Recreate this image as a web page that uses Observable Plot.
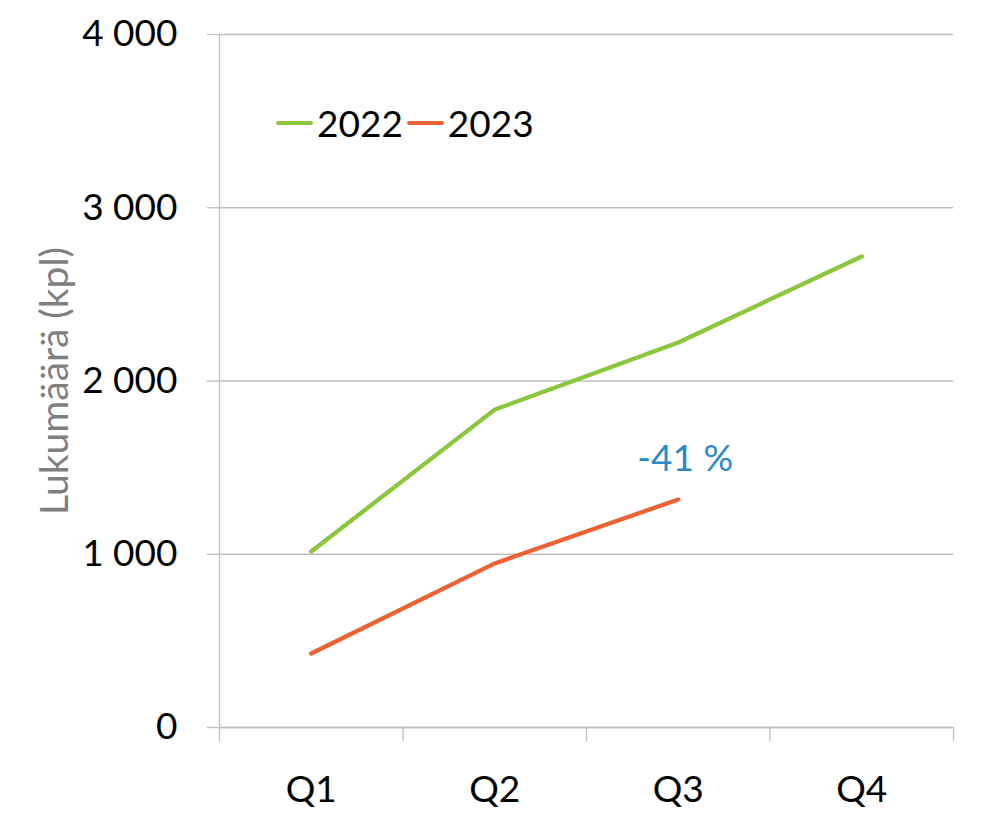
<!DOCTYPE html>
<html>
<head>
<meta charset="utf-8">
<script src="https://cdn.jsdelivr.net/npm/d3@7"></script>
<script src="https://cdn.jsdelivr.net/npm/@observablehq/plot@0.6"></script>
<style>
  html, body { margin: 0; padding: 0; background: #fff; }
  #wrap { position: relative; width: 999px; height: 815px; font-family: Lato, "Open Sans", sans-serif; }
  #legend { position: absolute; left: 276px; top: 100px; display: flex; align-items: center; font-size: 37px; color: #000; }
  #legend .item { display: flex; align-items: center; margin-right: 4px; }
  #legend .sw { display: inline-block; width: 37px; height: 4px; border-radius: 2px; margin-right: 4px; }
</style>
</head>
<body>
<div id="wrap"></div>
<script>
const quarters = ["Q1", "Q2", "Q3", "Q4"];
const years = ["2022", "2023"];
const values2022 = [1016, 1835, 2222, 2719];
const values2023 = [427, 947, 1316];
const colors = ["#8CC63E", "#EC6233"];
const yTicks = [0, 1000, 2000, 3000, 4000];

const rows = [];
values2022.forEach((v, i) => rows.push({year: "2022", q: i + 0.5, v}));
values2023.forEach((v, i) => rows.push({year: "2023", q: i + 0.5, v}));

const lastIdx = values2023.length - 1;
const change = Math.round((values2023[lastIdx] / values2022[lastIdx] - 1) * 100);
const annot = [{q: lastIdx + 0.5, v: values2023[lastIdx], label: `${change} %`}];

const fmt = d => d3.format(",")(d).replace(/,/g, " ");
const font = "Lato, 'Open Sans', sans-serif";

const chart = Plot.plot({
  width: 999,
  height: 815,
  marginLeft: 219,
  marginRight: 46,
  marginTop: 34,
  marginBottom: 88,
  style: {fontFamily: font, fontSize: "37px", color: "#000", background: "#fff"},
  x: {domain: [0, quarters.length]},
  y: {domain: [0, 4000]},
  color: {domain: years, range: colors},
  marks: [
    Plot.gridY(yTicks, {stroke: "#bfbfbf", strokeOpacity: 1, strokeWidth: 1.3}),
    Plot.ruleX([0], {stroke: "#bfbfbf", strokeWidth: 1.3}),
    Plot.ruleY([0], {stroke: "#bfbfbf", strokeWidth: 1.3}),
    Plot.axisY(yTicks, {tickSize: 12, tickPadding: 30, tickFormat: fmt, stroke: "#bfbfbf", strokeWidth: 1.3, label: null, fontSize: 37, fill: "#000"}),
    Plot.axisX(d3.range(0, quarters.length + 1), {tickSize: 14, tickFormat: () => "", stroke: "#bfbfbf", strokeWidth: 1.3, label: null}),
    Plot.axisX(quarters.map((d, i) => i + 0.5), {tickSize: 0, tickPadding: 48, tickFormat: d => quarters[d - 0.5], label: null, fontSize: 37, fill: "#000"}),
    Plot.line(rows, {x: "q", y: "v", z: "year", stroke: "year", strokeWidth: 4.3, strokeLinecap: "round"}),
    Plot.text(annot, {x: "q", y: "v", text: "label", dx: 7, dy: -40, fill: "#2A8AC8", fontSize: 37}),
    Plot.text(["Lukumäärä (kpl)"], {frameAnchor: "left", textAnchor: "middle", dx: -164, rotate: -90, fill: "#7f7f7f", fontSize: 39})
  ]
});

const wrap = document.getElementById("wrap");
wrap.appendChild(chart);

const legend = document.createElement("div");
legend.id = "legend";
years.forEach((y, i) => {
  const item = document.createElement("div");
  item.className = "item";
  const sw = document.createElement("span");
  sw.className = "sw";
  sw.style.background = colors[i];
  item.appendChild(sw);
  item.appendChild(document.createTextNode(y));
  legend.appendChild(item);
});
wrap.appendChild(legend);
</script>
</body>
</html>
